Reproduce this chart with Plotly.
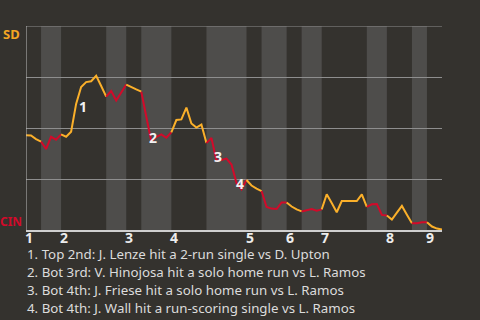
import plotly.graph_objects as go

# San Diego win probability (%) after each play, play index 0..83
sd_win_pct = [
    46.4, 46.3, 44.6, 43.3, 39.7, 45.7, 44.3, 46.9, 45.7, 48.2,
    61.8, 70.1, 72.5, 72.9, 75.6, 70.6, 65.4, 68.1, 63.5, 67.5,
    71.3, 69.9, 68.9, 67.8, 55.4, 43.4, 45.6, 46.9, 45.2, 47.9,
    53.9, 54.2, 60.0, 52.2, 50.2, 51.7, 42.6, 45.1, 34.1, 34.3,
    35.0, 32.1, 23.0, 19.9, 24.5, 21.8, 20.3, 19.1, 11.3, 10.5,
    10.3, 13.5, 13.5, 11.5, 10.1, 9.1, 9.6, 10.3, 9.5, 10.1,
    17.5, 13.2, 8.7, 14.2, 14.2, 14.2, 14.2, 17.5, 11.3, 12.6,
    12.7, 7.4, 7.1, 5.1, 8.5, 11.8, 7.5, 3.3, 3.3, 3.8,
    3.8, 1.7, 0.7, 0.2,
]

# play index where each half inning ends (top 1st, bot 1st, top 2nd, ...)
half_inning_ends = [3, 7, 16, 20, 23, 29, 36, 44, 47, 52, 55, 59, 68, 72, 77, 80, 83]
inning_labels = ["1", "2", "3", "4", "5", "6", "7", "8", "9"]

event_numbers = ["1", "2", "3", "4"]
event_plays = [10, 25, 38, 42]
event_texts = [
    "1. Top 2nd: J. Lenze hit a 2-run single vs D. Upton",
    "2. Bot 3rd: V. Hinojosa hit a solo home run vs L. Ramos",
    "3. Bot 4th: J. Friese hit a solo home run vs L. Ramos",
    "4. Bot 4th: J. Wall hit a run-scoring single vs L. Ramos",
]

BG = "#34322e"
BAND = "#4e4d4b"
ORANGE = "#fbb02a"
RED = "#d20a2a"
GRID = "#8e8e8e"
FONT = "Noto Sans"

half_starts = [0] + half_inning_ends[:-1]
inning_starts = half_starts[0::2]
last_play = half_inning_ends[-1]

fig = go.Figure()

shapes = []
for k, (s, e) in enumerate(zip(half_starts, half_inning_ends)):
    if k % 2 == 1:
        shapes.append(dict(type="rect", xref="x", yref="paper", x0=s, x1=e, y0=0, y1=1,
                           fillcolor=BAND, line=dict(width=0), layer="below"))
# top border (100% gridline) and left axis line
shapes.append(dict(type="line", xref="x", yref="y", x0=0, x1=last_play, y0=100, y1=100,
                   line=dict(color=GRID, width=1), layer="below"))
shapes.append(dict(type="line", xref="x", yref="y", x0=0, x1=0, y0=0, y1=100,
                   line=dict(color="#bdbdbd", width=1), layer="above"))

for k, (s, e) in enumerate(zip(half_starts, half_inning_ends)):
    xs = list(range(s, e + 1))
    ys = sd_win_pct[s:e + 1]
    fig.add_trace(go.Scatter(x=xs, y=ys, mode="lines",
                             line=dict(color=ORANGE if k % 2 == 0 else RED, width=2),
                             hoverinfo="skip", showlegend=False))

annotations = []
shifts = [(7, -3), (2, 4), (2, 4), (3, 0)]
for num, p, (dx, dy) in zip(event_numbers, event_plays, shifts):
    annotations.append(dict(x=p, y=sd_win_pct[p], xref="x", yref="y", text=f"<b>{num}</b>",
                            showarrow=False, xshift=dx, yshift=dy,
                            font=dict(family=FONT, size=14, color="#f2f2f2")))

# inning labels along the bottom axis, left-aligned at each inning start
for s, lab in zip(inning_starts, inning_labels):
    annotations.append(dict(x=s, y=0, xref="x", yref="paper", text=f"<b>{lab}</b>",
                            showarrow=False, xanchor="left", yanchor="top",
                            xshift=-3, yshift=4,
                            font=dict(family=FONT, size=14, color="#ececec")))

annotations.append(dict(x=0, y=1, xref="paper", yref="paper", text="<b>SD</b>", showarrow=False,
                        xanchor="right", yanchor="top", xshift=-4, yshift=3,
                        font=dict(family=FONT, size=13, color="#f5a623")))
annotations.append(dict(x=0, y=0, xref="paper", yref="paper", text="<b>CIN</b>", showarrow=False,
                        xanchor="right", yanchor="bottom", xshift=-2, yshift=-2,
                        font=dict(family=FONT, size=12, color=RED)))

for j, t in enumerate(event_texts):
    annotations.append(dict(x=0, y=0, xref="paper", yref="paper", text=t, showarrow=False,
                            xanchor="left", yanchor="middle", xshift=-1, yshift=-24 - 18 * j,
                            font=dict(family=FONT, size=13.3, color="#dcdcdc")))

fig.update_layout(
    width=480, height=320,
    margin=dict(l=26, r=38, t=26, b=90, pad=0),
    paper_bgcolor=BG, plot_bgcolor=BG,
    shapes=shapes, annotations=annotations,
    xaxis=dict(range=[0, last_play], showgrid=False, zeroline=False,
               showticklabels=False, ticks="",
               showline=True, linecolor="#cfcfcf", linewidth=2),
    yaxis=dict(range=[0, 100], tickvals=[25, 50, 75], showgrid=True,
               gridcolor=GRID, gridwidth=1, showticklabels=False, zeroline=False,
               showline=False),
)

fig.write_html("out.html")
